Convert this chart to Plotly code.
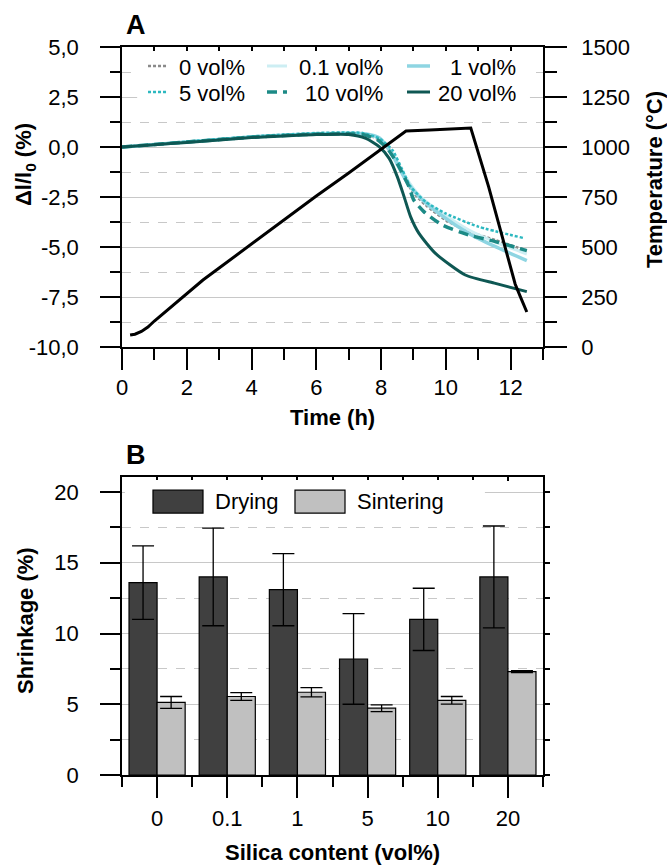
import plotly.graph_objects as go

# ---------------- Panel A data ----------------
t_0 = [0, 1, 2, 3, 4, 5, 6, 7, 7.5, 7.9, 8.25, 8.6, 8.97, 9.37, 9.99, 10.71, 11.53, 12.5]
dl_0 = [0, 0.12, 0.25, 0.38, 0.5, 0.58, 0.65, 0.68, 0.62, 0.4, -0.07, -1.15, -2.23, -2.9, -3.65, -4.23, -4.65, -5.18]

t_01 = [0, 1, 2, 3, 4, 5, 6, 7, 7.5, 7.95, 8.35, 8.76, 9.17, 9.78, 10.71, 11.53, 12.5]
dl_01 = [0, 0.12, 0.25, 0.38, 0.5, 0.59, 0.66, 0.69, 0.64, 0.42, -0.3, -1.5, -2.4, -3.2, -4.15, -4.75, -5.35]

t_1 = [0, 1, 2, 3, 4, 5, 6, 7, 7.5, 7.95, 8.35, 8.76, 9.17, 9.78, 10.71, 11.53, 12.5]
dl_1 = [0, 0.12, 0.25, 0.38, 0.5, 0.59, 0.66, 0.69, 0.66, 0.45, -0.4, -1.65, -2.48, -3.32, -4.32, -4.98, -5.68]

t_5 = [0, 1, 2, 3, 4, 5, 6, 7, 7.43, 7.94, 8.35, 8.66, 8.91, 9.37, 9.99, 11.0, 12.4]
dl_5 = [0, 0.13, 0.27, 0.4, 0.53, 0.62, 0.7, 0.73, 0.7, 0.43, -0.15, -1.15, -1.98, -2.73, -3.32, -3.98, -4.55]

t_10 = [0, 1, 2, 3, 4, 5, 6, 7, 7.5, 7.9, 8.25, 8.55, 8.86, 9.01, 9.32, 9.89, 10.71, 11.53, 12.5]
dl_10 = [0, 0.12, 0.25, 0.37, 0.49, 0.57, 0.64, 0.66, 0.6, 0.35, -0.2, -0.98, -1.98, -2.65, -3.23, -3.9, -4.4, -4.73, -5.18]

t_20 = [0, 1, 2, 3, 4, 5, 6, 7, 7.53, 7.94, 8.25, 8.5, 8.71, 8.91, 9.17, 9.68, 10.6, 11.53, 12.5]
dl_20 = [0, 0.11, 0.23, 0.35, 0.47, 0.55, 0.62, 0.63, 0.43, 0.02, -0.57, -1.48, -2.48, -3.48, -4.32, -5.32, -6.4, -6.82, -7.23]

t_temp = [0.25, 0.4, 0.6, 0.8, 1.0, 1.5, 2.0, 2.5, 3, 4, 5, 6, 7, 8, 8.77, 9.5, 10.77, 11.32, 11.84, 12.14, 12.3, 12.5]
temp = [60, 64, 78, 100, 130, 198, 266, 335, 395, 515, 635, 755, 870, 990, 1080, 1085, 1095, 802, 502, 315, 252, 175]

series_names = ["0 vol%", "0.1 vol%", "1 vol%", "5 vol%", "10 vol%", "20 vol%"]

yA_ticks = [-10, -7.5, -5, -2.5, 0, 2.5, 5]
yA_labels = ["-10,0", "-7,5", "-5,0", "-2,5", "0,0", "2,5", "5,0"]

# ---------------- Panel B data ----------------
categories = ["0", "0.1", "1", "5", "10", "20"]
drying = [13.6, 14.0, 13.1, 8.2, 11.0, 14.0]
drying_err = [2.6, 3.45, 2.55, 3.2, 2.2, 3.6]
sintering = [5.13, 5.55, 5.85, 4.72, 5.28, 7.3]
sintering_err = [0.42, 0.27, 0.33, 0.24, 0.27, 0.07]

# ---------------- styles ----------------
FONT = "Liberation Sans, Arial, sans-serif"
styles = [
    dict(color="#8a8a8a", dash="3px,2px", width=2.5),
    dict(color="#cdeef3", dash="solid", width=3),
    dict(color="#8ed5e2", dash="solid", width=3.5),
    dict(color="#2cb8c0", dash="3px,2px", width=2.5),
    dict(color="#1c8a86", dash="10px,6px", width=3.5),
    dict(color="#0e5753", dash="solid", width=3),
]
series_t = [t_0, t_01, t_1, t_5, t_10, t_20]
series_v = [dl_0, dl_01, dl_1, dl_5, dl_10, dl_20]

fig = go.Figure()

for name, tt, vv, st in zip(series_names, series_t, series_v, styles):
    fig.add_trace(go.Scatter(x=tt, y=vv, mode="lines", name=name, line=dict(shape="spline", smoothing=0.6, **st),
                             xaxis="x", yaxis="y", showlegend=False))

fig.add_trace(go.Scatter(x=t_temp, y=temp, mode="lines", name="Temperature",
                         line=dict(color="black", width=3), xaxis="x", yaxis="y2", showlegend=False))

# overlay helper traces (no visible marks)
for xa, ya in [("x3", "y"), ("x4", "y3"), ("x5", "y3"), ("x2", "y4")]:
    fig.add_trace(go.Scatter(x=[None], y=[None], xaxis=xa, yaxis=ya, showlegend=False, hoverinfo="skip"))

fig.add_trace(go.Bar(x=categories, y=drying, name="Drying", xaxis="x2", yaxis="y3",
                     marker=dict(color="#404040", line=dict(color="black", width=1.2)),
                     error_y=dict(type="data", array=drying_err, color="black", thickness=1.3, width=11),
                     showlegend=False))
fig.add_trace(go.Bar(x=categories, y=sintering, name="Sintering", xaxis="x2", yaxis="y3",
                     marker=dict(color="#c0c0c0", line=dict(color="black", width=1.2)),
                     error_y=dict(type="data", array=sintering_err, color="black", thickness=1.3, width=11),
                     showlegend=False))

tickfont = dict(family=FONT, size=22, color="black")
GRID = "#c8c8c8"
line_common = dict(showline=True, linecolor="black", linewidth=1.5, zeroline=False, tickcolor="black", tickwidth=1.5)

domA = [0.5879, 1.0]
domB = [0.0, 0.4093]

fig.update_layout(
    width=667, height=865,
    margin=dict(l=122, r=124, t=47, b=90),
    paper_bgcolor="white", plot_bgcolor="white",
    font=dict(family=FONT, size=22, color="black"),
    barmode="group", bargap=0.2, bargroupgap=0,
    xaxis=dict(domain=[0, 1], anchor="y", range=[0, 13], tick0=0, dtick=2, ticks="outside", ticklen=21,
               showgrid=False, tickfont=tickfont, ticklabelstandoff=-1,
               minor=dict(dtick=1, tick0=0, ticks="outside", ticklen=11, tickcolor="black", tickwidth=1.5, showgrid=False),
               **line_common),
    yaxis=dict(domain=domA, anchor="x", range=[-10, 5], tickmode="array", tickvals=yA_ticks, ticktext=yA_labels,
               ticks="outside", ticklen=20, showgrid=True, gridcolor=GRID, gridwidth=1.2, tickfont=tickfont,
               ticklabelstandoff=17,
               minor=dict(tickmode="linear", tick0=-10, dtick=1.25, ticks="outside", ticklen=10, tickcolor="black",
                          tickwidth=1.5, showgrid=True, gridcolor=GRID, griddash="dash", gridwidth=1.2),
               **line_common),
    yaxis2=dict(overlaying="y", side="right", anchor="x", range=[0, 1500], tick0=0, dtick=250, ticks="outside",
                ticklen=22, showgrid=False, tickfont=tickfont, ticklabelstandoff=10,
                minor=dict(dtick=125, tick0=0, ticks="outside", ticklen=12, tickcolor="black", tickwidth=1.5, showgrid=False),
                **line_common),
    xaxis3=dict(overlaying="x", side="top", anchor="y", range=[0, 13], tick0=0, dtick=1, ticks="inside", ticklen=4,
                showticklabels=False, showgrid=False, **line_common),
    xaxis2=dict(domain=[0, 1], anchor="y3", type="category", categoryorder="array", categoryarray=categories,
                range=[-0.5, 5.5], ticks="outside", ticklen=21, showgrid=False, tickfont=tickfont,
                ticklabelstandoff=2, **line_common),
    yaxis3=dict(domain=domB, anchor="x2", range=[0, 21.06], tick0=0, dtick=5, ticks="outside", ticklen=20,
                showgrid=True, gridcolor=GRID, gridwidth=1.2, tickfont=tickfont, ticklabelstandoff=17,
                minor=dict(dtick=2.5, tick0=0, ticks="outside", ticklen=10, tickcolor="black", tickwidth=1.5,
                           showgrid=True, gridcolor=GRID, griddash="dash", gridwidth=1.2),
                **line_common),
    xaxis4=dict(overlaying="x2", anchor="y3", side="bottom", range=[-0.5, 5.5], tick0=-0.5, dtick=1,
                ticks="outside", ticklen=11, showticklabels=False, showgrid=False, showline=False, zeroline=False,
                tickcolor="black", tickwidth=1.5),
    xaxis5=dict(overlaying="x2", anchor="y3", side="top", range=[-0.5, 5.5], tick0=-0.5, dtick=0.5,
                ticks="inside", ticklen=4, showticklabels=False, showgrid=False, **line_common),
    yaxis4=dict(overlaying="y3", anchor="x2", side="right", range=[0, 21.06], tick0=0, dtick=2.5,
                ticks="outside", ticklen=5, showticklabels=False, showgrid=False, **line_common),
)

shapes = []
annots = []

# Legend A background + samples
shapes.append(dict(type="rect", xref="x domain", yref="y domain", x0=0.036, x1=0.969, y0=0.797, y1=0.983,
                   fillcolor="white", line=dict(width=0), layer="above"))
col_x = [(0.0618, 0.1093, 0.2969), (0.3444, 0.3919, 0.6247), (0.677, 0.7316, 0.9406)]
row_y = [0.9367, 0.85]
for i, (name, st) in enumerate(zip(series_names, styles)):
    r, c = divmod(i, 3)
    x0, x1, xt = col_x[c]
    shapes.append(dict(type="line", xref="x domain", yref="y domain", x0=x0, x1=x1, y0=row_y[r], y1=row_y[r],
                       line=dict(color=st["color"], width=st["width"], dash=st["dash"]), layer="above"))
    annots.append(dict(text=name, xref="x domain", yref="y domain", x=xt, y=row_y[r] - 0.005, xanchor="right",
                       yanchor="middle", showarrow=False, font=dict(family=FONT, size=22, color="black")))

# Legend B
shapes.append(dict(type="rect", xref="x2 domain", yref="y3 domain", x0=0.007, x1=0.862, y0=0.849, y1=0.99,
                   fillcolor="white", line=dict(width=0), layer="above"))
for (x0, x1, xt, col, label) in [(0.0736, 0.1924, 0.2161, "#404040", "Drying"),
                                 (0.4109, 0.5297, 0.5534, "#c0c0c0", "Sintering")]:
    shapes.append(dict(type="rect", xref="x2 domain", yref="y3 domain", x0=x0, x1=x1, y0=0.879, y1=0.956,
                       fillcolor=col, line=dict(color="black", width=1.2), layer="above"))
    annots.append(dict(text=label, xref="x2 domain", yref="y3 domain", x=xt, y=0.917, xanchor="left",
                       yanchor="middle", showarrow=False, font=dict(family=FONT, size=22, color="black")))

bold = dict(family=FONT, size=22, color="black")
annots += [
    dict(text="<b>Δl/l<sub>0</sub> (%)</b>", xref="paper", yref="paper", x=-0.2304, y=0.8379, textangle=-90,
         showarrow=False, font=bold, xanchor="center", yanchor="middle"),
    dict(text="<b>Temperature (°C)</b>", xref="paper", yref="paper", x=1.2637, y=0.8173, textangle=-90,
         showarrow=False, font=bold, xanchor="center", yanchor="middle"),
    dict(text="<b>Time (h)</b>", xref="paper", yref="paper", x=0.5, y=0.4904, showarrow=False, font=bold,
         xanchor="center", yanchor="middle"),
    dict(text="<b>Shrinkage (%)</b>", xref="paper", yref="paper", x=-0.2304, y=0.2115, textangle=-90,
         showarrow=False, font=bold, xanchor="center", yanchor="middle"),
    dict(text="<b>Silica content (vol%)</b>", xref="paper", yref="paper", x=0.5, y=-0.1071, showarrow=False,
         font=bold, xanchor="center", yanchor="middle"),
    dict(text="<b>A</b>", xref="paper", yref="paper", x=0.0333, y=1.0302, showarrow=False,
         font=dict(family=FONT, size=27, color="black"), xanchor="center", yanchor="middle"),
    dict(text="<b>B</b>", xref="paper", yref="paper", x=0.0333, y=0.4396, showarrow=False,
         font=dict(family=FONT, size=27, color="black"), xanchor="center", yanchor="middle"),
]

fig.update_layout(shapes=shapes, annotations=annots)
# remove the default 8px page margin so the 667x865 figure fills the window exactly
fig.write_html("out.html", config={"displayModeBar": False},
               post_script="document.body.style.margin='0';")
